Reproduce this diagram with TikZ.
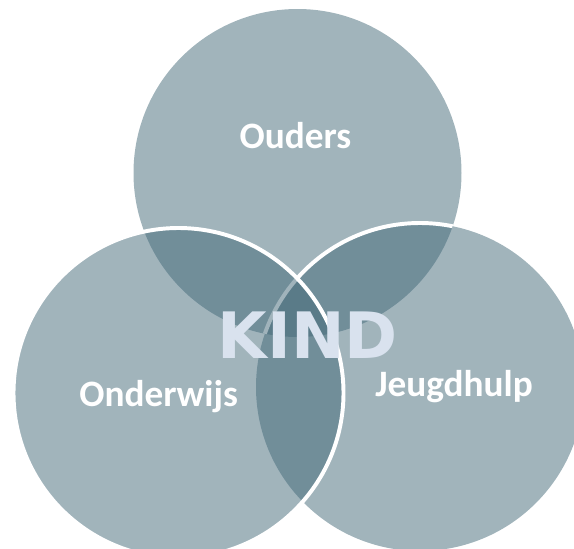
\documentclass[tikz,border=0pt]{standalone}
\usepackage{fontspec}
\usepackage{xcolor}
\setmainfont{Carlito}
\newfontfamily\kindfont{DejaVu Sans}
\definecolor{venn}{RGB}{67,105,120}
\definecolor{kindtext}{RGB}{217,226,238}

\begin{document}
\begin{tikzpicture}[
  x=0.025cm, y=-0.025cm,
  disc/.style={fill=venn, fill opacity=0.5},
  rim/.style={draw=white, line width=2.8pt},
  word/.style={anchor=base, text=white, font=\bfseries\fontsize{26.5}{31}\selectfont},
  kindword/.style={anchor=base, text=kindtext, font=\kindfont\bfseries\fontsize{45.5}{52}\selectfont}
]
  \clip (0,0) rectangle (574,548);
  \coordinate (top) at (297.5,173);
  \coordinate (right) at (420,387);
  \coordinate (left) at (178.5,393);

  \fill[disc] (top) circle (164);
  \fill[disc] (right) circle (164);
  \begin{scope}
    \clip (top) circle (164);
    \draw[rim] (right) circle (164);
  \end{scope}
  \fill[disc] (left) circle (165);
  \draw[rim] (left) circle (165);

  \node[word] (ouders) at (295.5,148.5) {Ouders};
  \node[word] (onderwijs) at (158.7,406.5) {Onderwijs};
  \node[word] (jeugdhulp) at (454,396.7) {Jeugdhulp};
  \node[kindword] (kind) at (308,358) {KIND};
\end{tikzpicture}
\end{document}
